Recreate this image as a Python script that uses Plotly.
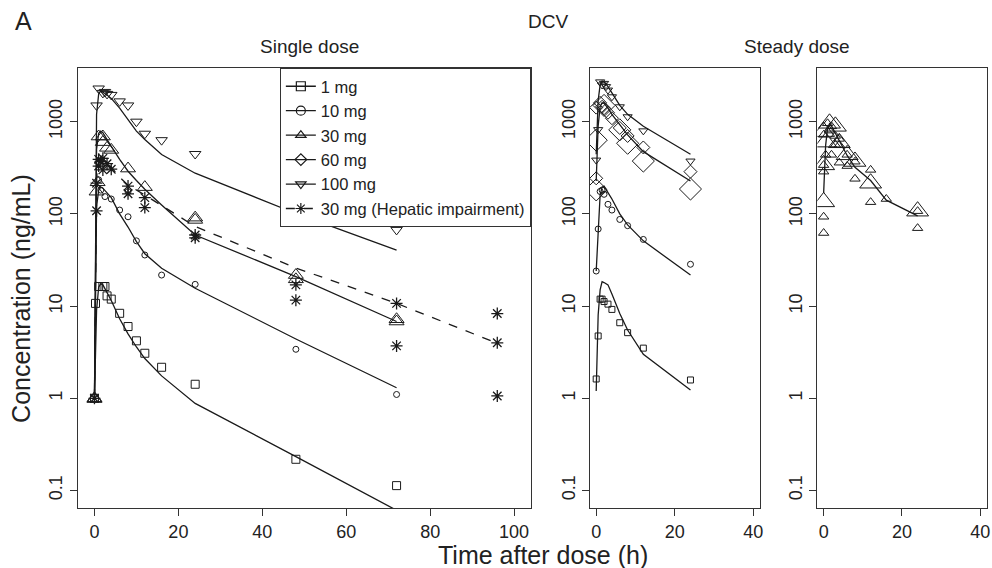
import plotly.graph_objects as go

# ---------------- Single dose: observed ----------------
t_1mg_obs = [0, 0.25, 1, 2, 2.5, 3, 4, 6, 8, 10, 12, 16, 24, 48, 72]
c_1mg_obs = [1.0, 10.7, 16.3, 16.3, 16.3, 12.9, 11.9, 8.35, 6.0, 4.2, 3.08, 2.17, 1.42, 0.218, 0.113]

t_10mg_obs = [1, 1.5, 2.5, 4, 6, 8, 8, 10, 12, 16, 24, 48, 72]
c_10mg_obs = [234, 181, 154, 145, 110, 93, 174, 51, 35.8, 21.7, 17.2, 3.4, 1.1]

t_30mg_obs = [0, 0, 0.5, 0.75, 1, 2, 2, 3, 4, 8, 12, 24, 24, 48, 48, 72, 72]
c_30mg_obs = [1.0, 0.98, 174, 220, 690, 690, 600, 520, 494, 310, 195, 91, 86, 21.7, 19.5, 7.2, 6.8]

t_100mg_obs = [0.5, 1, 2, 2.5, 3, 4, 6, 8, 10, 12, 16, 24, 48, 72]
c_100mg_obs = [1500, 2290, 2050, 2100, 2000, 1950, 1660, 1500, 1000, 740, 630, 446, 127, 67]

t_hep_obs = [0, 0.5, 0.5, 1, 1, 1.5, 2, 2, 3, 4, 8, 8, 12, 12, 24, 24, 48, 48, 72, 72, 96, 96, 96]
c_hep_obs = [1.0, 108, 215, 390, 330, 370, 400, 300, 350, 305, 200, 165, 150, 117, 59, 55, 17, 11.6, 10.7, 3.7, 8.3, 4.0, 1.06]

# ---------------- Single dose: predicted ----------------
t_pred_sd = [0, 0.5, 1, 1.5, 2, 3, 4, 6, 8, 10, 12, 16, 24, 48, 72]
c_1mg_pred = [1.0, 9, 16, 17.5, 17, 14, 11.5, 7.3, 5.0, 3.6, 2.7, 1.75, 0.88, 0.233, 0.061]
c_10mg_pred = [1.0, 120, 180, 195, 190, 170, 150, 100, 72, 50, 37, 25.7, 15.6, 4.4, 1.3]
c_30mg_pred = [1.0, 500, 750, 790, 760, 650, 540, 390, 290, 230, 185, 125, 59, 20.9, 6.8]
c_100mg_pred = [1.0, 1200, 2000, 2150, 2100, 1950, 1790, 1400, 1050, 790, 640, 440, 276, 101, 40.5]

t_hep_pred = [0, 0.5, 1, 1.5, 2, 3, 4, 6, 8, 12, 24, 48, 72, 96]
c_hep_pred = [1.0, 250, 370, 400, 395, 360, 320, 250, 205, 160, 73, 25.9, 10.7, 3.95]

# ---------------- Steady dose: observed ----------------
t_ss_1mg_obs = [0, 0.5, 1, 1.5, 2, 3, 4, 6, 8, 12, 24]
c_ss_1mg_obs = [1.62, 4.74, 11.9, 11.9, 11.2, 10.5, 9.2, 6.6, 5.15, 3.5, 1.58]

t_ss_10mg_obs = [0, 0.5, 1, 1.5, 2, 3, 4, 6, 8, 12, 24]
c_ss_10mg_obs = [24, 68.5, 175, 181, 163, 127, 110, 87, 74.5, 52.8, 28.4]

t_ss_60mg_obs = [0, 0, 1, 1.5, 2, 3, 4, 6, 8, 12, 24]
c_ss_60mg_obs = [1420, 243, 1600, 1450, 1400, 1250, 1090, 855, 700, 525, 287]
t_ss_60mg_obs_b = [0, 0, 2, 6, 8, 12, 24]
c_ss_60mg_obs_b = [630, 182, 1500, 815, 583, 374, 186]

t_ss_100mg_obs = [0, 0.5, 1, 1.5, 2, 2.5, 3, 4, 6, 8, 12, 24]
c_ss_100mg_obs = [383, 820, 2700, 2500, 2600, 2400, 2200, 1860, 1450, 1130, 795, 374]

t_ss_30mg_obs = [0, 0, 0, 0, 0, 0.5, 1, 1.5, 2, 2, 3, 3, 4, 4, 4, 6, 6, 8, 8, 12, 12, 16, 24, 24]
c_ss_30mg_obs = [62, 93, 287, 338, 720, 437, 960, 800, 890, 437, 700, 560, 650, 359, 560, 437, 330, 368, 240, 300, 134, 145, 107, 70]
t_ss_30mg_obs_b = [0, 0, 0, 0.5, 1.5, 3, 4, 6, 8, 12, 24]
c_ss_30mg_obs_b = [780, 340, 135, 600, 960, 890, 590, 437, 370, 215, 107]

# ---------------- Steady dose: predicted ----------------
t_pred_ss = [0, 0.5, 1, 1.5, 2, 3, 4, 6, 8, 12, 24]
c_ss_1mg_pred = [1.2, 8, 15, 18.4, 18, 17, 13.5, 8.3, 5.5, 3.0, 1.23]
c_ss_10mg_pred = [24, 70, 160, 195, 200, 170, 145, 100, 76, 51, 21.7]
c_ss_60mg_pred = [227, 900, 1450, 1600, 1580, 1400, 1200, 920, 720, 473, 227]
c_ss_100mg_pred = [443, 1700, 2500, 2760, 2700, 2400, 2050, 1500, 1200, 890, 443]

t_pred_ss30 = [0, 0.5, 1, 1.5, 2, 3, 4, 6, 8, 12, 16, 24]
c_ss_30mg_pred = [168, 550, 850, 950, 900, 750, 620, 430, 320, 230, 141, 95]

legend_names = ["1 mg", "10 mg", "30 mg", "60 mg", "100 mg", "30 mg (Hepatic impairment)"]
legend_symbols = ["square-open", "circle-open", "triangle-up-open", "diamond-open",
                  "triangle-down-open", "asterisk-open"]

x_ticks_sd = [0, 20, 40, 60, 80, 100]
x_ticks_ss = [0, 20, 40]
y_ticks = [0.1, 1, 10, 100, 1000]
y_tick_text = ["0.1", "1", "10", "100", "1000"]

INK = "#1a1a1a"
FONT = "Liberation Sans, Arial, Helvetica, sans-serif"

fig = go.Figure()


def add_pts(x, y, sym, size, xa, ya, lw=1.0):
    fig.add_trace(go.Scatter(
        x=x, y=y, mode="markers", xaxis=xa, yaxis=ya, showlegend=False,
        marker=dict(symbol=sym, size=size, color=INK,
                    line=dict(color=INK, width=lw)),
        hoverinfo="skip"))


def add_line(x, y, xa, ya, dash="solid"):
    fig.add_trace(go.Scatter(
        x=x, y=y, mode="lines", xaxis=xa, yaxis=ya, showlegend=False,
        line=dict(color=INK, width=1.3, dash=dash), hoverinfo="skip"))


# Single dose panel
add_line(t_pred_sd, c_1mg_pred, "x", "y")
add_line(t_pred_sd, c_10mg_pred, "x", "y")
add_line(t_pred_sd, c_30mg_pred, "x", "y")
add_line(t_pred_sd, c_100mg_pred, "x", "y")
add_line(t_hep_pred, c_hep_pred, "x", "y", dash="dash")
add_pts(t_1mg_obs, c_1mg_obs, "square-open", 8, "x", "y")
add_pts(t_10mg_obs, c_10mg_obs, "circle-open", 6, "x", "y")
add_pts(t_30mg_obs, c_30mg_obs, "triangle-up-open", 13, "x", "y")
add_pts(t_100mg_obs, c_100mg_obs, "triangle-down-open", 10, "x", "y")
add_pts(t_hep_obs, c_hep_obs, "asterisk-open", 10, "x", "y", lw=1.3)

# Steady dose panel (1,10,60,100 mg)
add_line(t_pred_ss, c_ss_1mg_pred, "x2", "y2")
add_line(t_pred_ss, c_ss_10mg_pred, "x2", "y2")
add_line(t_pred_ss, c_ss_60mg_pred, "x2", "y2")
add_line(t_pred_ss, c_ss_100mg_pred, "x2", "y2")
add_pts(t_ss_1mg_obs, c_ss_1mg_obs, "square-open", 6, "x2", "y2")
add_pts(t_ss_10mg_obs, c_ss_10mg_obs, "circle-open", 6, "x2", "y2")
add_pts(t_ss_60mg_obs, c_ss_60mg_obs, "diamond-open", 10, "x2", "y2")
add_pts(t_ss_60mg_obs_b, c_ss_60mg_obs_b, "diamond-open", 17, "x2", "y2")
add_pts(t_ss_100mg_obs, c_ss_100mg_obs, "triangle-down-open", 8, "x2", "y2")

# Steady dose panel (30 mg)
add_line(t_pred_ss30, c_ss_30mg_pred, "x3", "y3")
add_pts(t_ss_30mg_obs, c_ss_30mg_obs, "triangle-up-open", 9, "x3", "y3")
add_pts(t_ss_30mg_obs_b, c_ss_30mg_obs_b, "triangle-up-open", 19, "x3", "y3")

# Legend entries
for i, (nm, sym) in enumerate(zip(legend_names, legend_symbols)):
    fig.add_trace(go.Scatter(
        x=[None], y=[None], mode="lines+markers", name=nm, xaxis="x", yaxis="y",
        line=dict(color=INK, width=1.3, dash="dash" if i == 5 else "solid"),
        marker=dict(symbol=sym, size=9, color=INK, line=dict(color=INK, width=1.2))))

W, H = 992, 568


def px2fx(p):
    return p / W


def px2fy(p):
    return 1 - p / H


ydom = [px2fy(508.3), px2fy(68)]
yrange = [-1.193, 3.582]

axis_common = dict(showline=True, mirror=True, linecolor="#333", linewidth=1,
                   ticks="outside", ticklen=7, tickwidth=1, tickcolor="#333",
                   showgrid=False, zeroline=False,
                   tickfont=dict(family=FONT, size=18, color="#222"))

yax = dict(axis_common, type="log", range=yrange, domain=ydom,
           tickvals=y_ticks, ticktext=y_tick_text, tickangle=-90)

fig.update_layout(
    width=W, height=H,
    margin=dict(l=0, r=0, t=0, b=0),
    paper_bgcolor="white", plot_bgcolor="white",
    font=dict(family=FONT, color="#222"),
    xaxis=dict(axis_common, domain=[px2fx(78), px2fx(533)], range=[-4, 104],
               tickvals=x_ticks_sd, anchor="y"),
    yaxis=dict(yax, anchor="x"),
    xaxis2=dict(axis_common, domain=[px2fx(592.3), px2fx(762.7)], range=[-1.6, 41.6],
                tickvals=x_ticks_ss, anchor="y2"),
    yaxis2=dict(yax, anchor="x2"),
    xaxis3=dict(axis_common, domain=[px2fx(820.7), px2fx(990.5)], range=[-1.6, 41.6],
                tickvals=x_ticks_ss, anchor="y3"),
    yaxis3=dict(yax, anchor="x3"),
    showlegend=True,
    legend=dict(x=px2fx(533), xanchor="right", y=px2fy(68), yanchor="top",
                bgcolor="white", bordercolor="#333", borderwidth=1,
                font=dict(family=FONT, size=16.5, color="#222"),
                itemwidth=30, tracegroupgap=0),
)

annots = [
    dict(text="A", x=px2fx(24), y=px2fy(21), size=25),
    dict(text="DCV", x=px2fx(550), y=px2fy(22), size=19),
    dict(text="Single dose", x=px2fx(311), y=px2fy(46), size=19),
    dict(text="Steady dose", x=px2fx(800), y=px2fy(46), size=19),
    dict(text="Time after dose (h)", x=px2fx(545), y=px2fy(555), size=25),
]
for a in annots:
    fig.add_annotation(text=a["text"], x=a["x"], y=a["y"], xref="paper", yref="paper",
                       xanchor="center", yanchor="middle", showarrow=False,
                       font=dict(family=FONT, size=a["size"], color="#222"))
fig.add_annotation(text="Concentration (ng/mL)", x=px2fx(21), y=px2fy(298),
                   xref="paper", yref="paper", xanchor="center", yanchor="middle",
                   showarrow=False, textangle=-90,
                   font=dict(family=FONT, size=25, color="#222"))

fig.write_html("out.html")
